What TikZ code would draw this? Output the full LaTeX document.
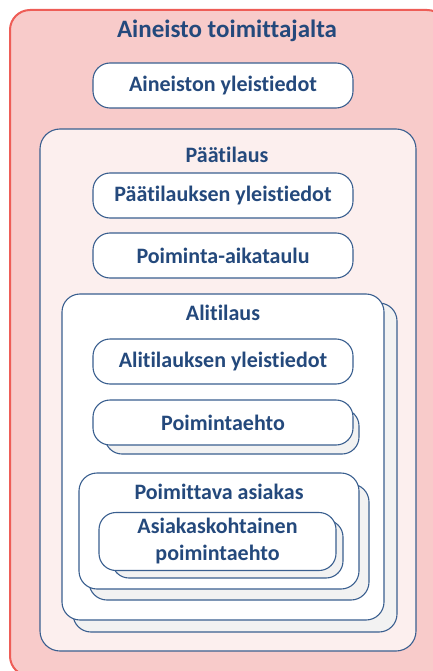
\documentclass[tikz,border=0pt]{standalone}
\usepackage{fontspec}
\setmainfont[Ligatures=NoCommon]{Carlito}
\definecolor{outerfill}{HTML}{F8CBCA}
\definecolor{outerline}{HTML}{EE5D57}
\definecolor{midfill}{HTML}{FCEFEE}
\definecolor{blueline}{HTML}{3A5F8F}
\definecolor{bluetext}{HTML}{24497C}
\definecolor{shadowfill}{HTML}{F2F2F2}
\tikzset{
  x=1pt, y=-1pt,
  frame/.style={draw=blueline, line width=1.1pt, rounded corners=18pt},
  pill/.style={frame, fill=white, rounded corners=17pt, minimum width=260pt, minimum height=45pt,
    inner sep=0pt, text=bluetext, font=\fontsize{22}{27}\selectfont\bfseries, align=center},
  shadowbox/.style={frame, fill=shadowfill},
  whitebox/.style={frame, fill=white},
  title/.style={text=bluetext, font=\fontsize{22}{27}\selectfont\bfseries, inner sep=0pt},
}
\begin{document}
\begin{tikzpicture}
\useasboundingbox (0,0) rectangle (432,671);
% outer
\draw[fill=outerfill, draw=outerline, line width=2pt, rounded corners=20pt] (10,10) rectangle (447,676);
\node[title, font=\fontsize{25}{28}\selectfont\bfseries] (t0) at (227,31) {Aineisto toimittajalta};
\node[pill] (a1) at (223,85.5) {Aineiston yleistiedot};
% Paatilaus
\draw[frame, fill=midfill, rounded corners=20pt] (40,129) rectangle (416,651);
\node[title] (t1) at (227,155) {Päätilaus};
\node[pill] (a2) at (223,195.5) {Päätilauksen yleistiedot};
\node[pill] (a3) at (223,255.5) {Poiminta-aikataulu};
% Alitilaus
\draw[shadowbox] (73,303) rectangle (397,632);
\draw[whitebox] (62,294) rectangle (384,620);
\node[title] (t2) at (223,313) {Alitilaus};
\node[pill] (a4) at (223,361.5) {Alitilauksen yleistiedot};
\node[pill, fill=shadowfill, minimum width=254pt] (a5s) at (232,431.5) {};
\node[pill] (a5) at (223,422.5) {Poimintaehto};
% Poimittava asiakas
\draw[shadowbox] (89,484) rectangle (369,600);
\draw[whitebox] (79,473) rectangle (359,589);
\node[title] (t3) at (219,492) {Poimittava asiakas};
\node[pill, fill=shadowfill, minimum width=231pt, minimum height=58pt] (a6s) at (227.5,549) {};
\node[pill, minimum width=237pt, minimum height=58pt] (a6) at (217.5,541.5) {Asiakaskohtainen\\poimintaehto};
\end{tikzpicture}
\end{document}
